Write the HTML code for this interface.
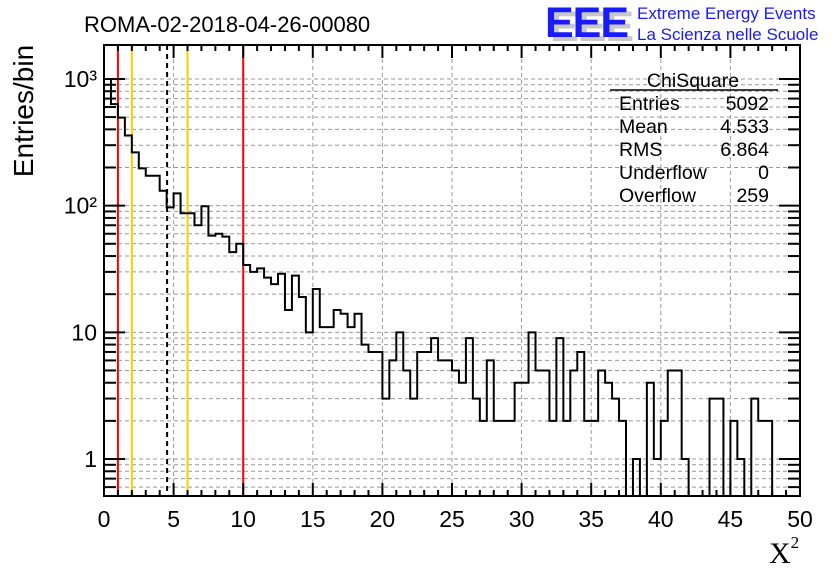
<!DOCTYPE html>
<html><head><meta charset="utf-8"><style>
html,body{margin:0;padding:0;background:#fff;}
svg{display:block;font-family:"Liberation Sans",sans-serif;}
</style></head><body>
<svg id="chart" width="836" height="572" viewBox="0 0 836 572" xmlns="http://www.w3.org/2000/svg">
<defs><clipPath id="plotclip"><rect x="104" y="45" width="696" height="451"/></clipPath></defs>
<rect x="0" y="0" width="836" height="572" fill="#fff"/>
<g id="grid"></g>
<g id="marks"></g>
<path id="hist" fill="none" stroke="#000" stroke-width="2" clip-path="url(#plotclip)"/>
<g id="axes"></g>
<text x="84" y="32" font-size="22">ROMA-02-2018-04-26-00080</text>
<g>
<text x="550" y="41" font-size="43" font-weight="bold" fill="#c8c8c8" letter-spacing="-1">EEE</text>
<text x="545" y="37" font-size="43" font-weight="bold" fill="#1a1aff" letter-spacing="-1">EEE</text>
<text x="637" y="19" font-size="17" fill="#1a1aff">Extreme Energy Events</text>
<text x="637" y="40" font-size="17" fill="#1a1aff">La Scienza nelle Scuole</text>
</g>
<g font-size="19.5">
<text x="693" y="87" text-anchor="middle">ChiSquare</text>
<line x1="610" y1="90" x2="778" y2="90" stroke="#000" stroke-width="1.5"/>
<text x="619" y="110">Entries</text><text x="769" y="110" text-anchor="end">5092</text>
<text x="619" y="133">Mean</text><text x="769" y="133" text-anchor="end">4.533</text>
<text x="619" y="156">RMS</text><text x="769" y="156" text-anchor="end">6.864</text>
<text x="619" y="179">Underflow</text><text x="769" y="179" text-anchor="end">0</text>
<text x="619" y="202">Overflow</text><text x="769" y="202" text-anchor="end">259</text>
</g>
<text transform="translate(33,111) rotate(-90)" text-anchor="middle" font-size="28">Entries/bin</text>
<text x="769" y="563" font-family="Liberation Serif,serif" font-size="30">X<tspan font-size="17" dy="-15">2</tspan></text>
</svg>
<script>
const binCounts = [1000,633,495,358,263,197,172,172,131,97,125,87,87,70,99,58,60,57,43,50,
34,30,32,27,24,29,15,28,19,10,22,11,11,15,14,11,14,8,7,7,
3,6,10,5,3,7,7,9,6,6,5,4,9,3,2,6,2,2,2,4,
4,10,5,5,2,9,2,5,7,2,2,5,4,3,2,0,1,0,4,1,
2,5,5,1,0,0,0,3,3,0,2,1,0,3,2,2,0,0,0,0];
const xTickLabels = [0,5,10,15,20,25,30,35,40,45,50];
const yDecades = [1,10,100,1000];
const yTickLabels = ["1","10","10²","10³"];
const redLines = [1,10];
const yellowLines = [2,6];
const meanLine = [4.533];
const xMin=0,xMax=50,binWidth=0.5;
const L=104,R=800,T=45,B=496;
const logMin=-0.292,logMax=3.268;
const NS="http://www.w3.org/2000/svg";
function sx(v){return L+(v-xMin)/(xMax-xMin)*(R-L);}
function sy(v){if(v<=0)return B+20;const y=B-(Math.log10(v)-logMin)/(logMax-logMin)*(B-T);return Math.max(T,Math.min(B+20,y));}
function mk(parent,tag,attrs){const e=document.createElementNS(NS,tag);for(const k in attrs)e.setAttribute(k,attrs[k]);parent.appendChild(e);return e;}
const grid=document.getElementById('grid'),axes=document.getElementById('axes'),marks=document.getElementById('marks');
xTickLabels.forEach(v=>{if(v>xMin&&v<xMax){const l=mk(grid,'line',{x1:sx(v),x2:sx(v),y1:T,y2:B,stroke:'#999','stroke-width':1,'stroke-dasharray':'4,3'});

}});
const yTicks=[];
[0.1,1,10,100,1000].forEach(d=>{for(let m=1;m<=9;m++){const v=d*m;const lv=Math.log10(v);if(lv>=logMin&&lv<=logMax)yTicks.push({v:v,major:m===1});}});
yTicks.forEach(t=>{const y=sy(t.v);
const g=mk(grid,'line',{x1:L,x2:R,y1:y,y2:y,stroke:'#999','stroke-width':1,'stroke-dasharray':'4,3'});


const len=t.major?21:12;
const a=mk(axes,'line',{x1:L,x2:L+len,y1:y,y2:y,stroke:'#000','stroke-width':2});


const b=mk(axes,'line',{x1:R,x2:R-len,y1:y,y2:y,stroke:'#000','stroke-width':2});

});
for(let v=xMin;v<=xMax;v+=1){const major=v%5===0;const len=major?13:6;const x=sx(v);
const a=mk(axes,'line',{x1:x,x2:x,y1:B,y2:B-len,stroke:'#000','stroke-width':2});


const b=mk(axes,'line',{x1:x,x2:x,y1:T,y2:T+len,stroke:'#000','stroke-width':2});

}
xTickLabels.forEach(v=>{const t=mk(axes,'text',{x:sx(v),y:527,'text-anchor':'middle','font-size':23});t.textContent=v;

});
yDecades.forEach((v,i)=>{const t=mk(axes,'text',{x:97,y:sy(v)+8,'text-anchor':'end','font-size':23});t.textContent=yTickLabels[i];

});
const fr=mk(axes,'rect',{x:L,y:T,width:R-L,height:B-T,fill:'none',stroke:'#000','stroke-width':2});


function vline(v,color,dash,name){const a={x1:sx(v),x2:sx(v),y1:T,y2:B,stroke:color,'stroke-width':2};if(dash)a['stroke-dasharray']=dash;const l=mk(marks,'line',a);

}
redLines.forEach(v=>vline(v,'#ff0000',null,'red-threshold-line'));
yellowLines.forEach(v=>vline(v,'#ffcc00',null,'yellow-threshold-line'));
meanLine.forEach(v=>vline(v,'#000',"5,4",'mean-line'));
let d='';let prev=null;
binCounts.forEach((c,i)=>{const x0=sx(xMin+i*binWidth),x1=sx(xMin+(i+1)*binWidth),y=sy(c);
if(prev===null)d+='M'+x0+','+y;else d+='L'+x0+','+y;d+='L'+x1+','+y;prev=y;});
document.getElementById('hist').setAttribute('d',d);
</script>
</body></html>
